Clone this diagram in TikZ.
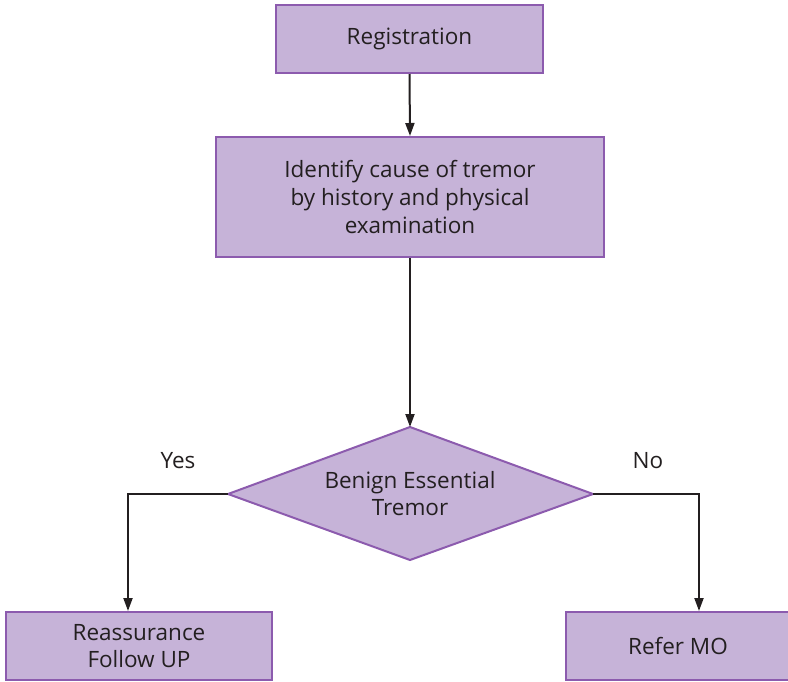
\documentclass[tikz,border=0pt]{standalone}
\usepackage{fontspec}
\setmainfont{Open Sans}
\usetikzlibrary{shapes.geometric,arrows.meta}
\definecolor{boxfill}{HTML}{C6B3D8}
\definecolor{boxline}{HTML}{8C5BAE}
\definecolor{txt}{HTML}{231F20}
\tikzset{
  box/.style={draw=boxline, fill=boxfill, line width=2pt, inner sep=0pt, align=center,
    text=txt, font=\fontsize{22.5}{28}\selectfont},
  conn/.style={draw=txt, line width=2pt, -{Triangle[length=13pt,width=9pt]}},
  lbl/.style={text=txt, font=\fontsize{22.5}{27}\selectfont}
}
\begin{document}
\begin{tikzpicture}[x=1pt,y=-1pt]
\useasboundingbox (0,0) rectangle (788,681);
\node[box, minimum width=267pt, minimum height=68pt] (reg) at (409.5,39) {Registration};
\node[box, minimum width=388pt, minimum height=120pt] (id) at (410,197) {Identify cause of tremor\\by history and physical\\examination};
\draw[draw=boxline, fill=boxfill, line width=2pt] (410,427) -- (593,494) -- (410,560) -- (228,494) -- cycle;
\coordinate (dtop) at (410,427);
\coordinate (dleft) at (228,494);
\coordinate (dright) at (593,494);
\node[lbl, align=center] (dtext) at (410,494) {Benign Essential\\Tremor};
\node[box, minimum width=266pt, minimum height=68pt, font=\fontsize{22.5}{27}\selectfont] (reas) at (139,646) {Reassurance\\Follow UP};
\node[box, minimum width=224pt, minimum height=68pt, anchor=west] (refer) at (565,646) {Refer MO};
\node[lbl] (yes) at (178,461) {Yes};
\node[lbl] (no) at (648,461) {No};
\draw[conn] (reg.south) -- (id.north);
\draw[conn] (id.south) -- (dtop);
\draw[conn] (dleft) -| (reas.north -| 128,0);
\draw[conn] (dright) -| (refer.north -| 699,0);
\end{tikzpicture}
\end{document}
